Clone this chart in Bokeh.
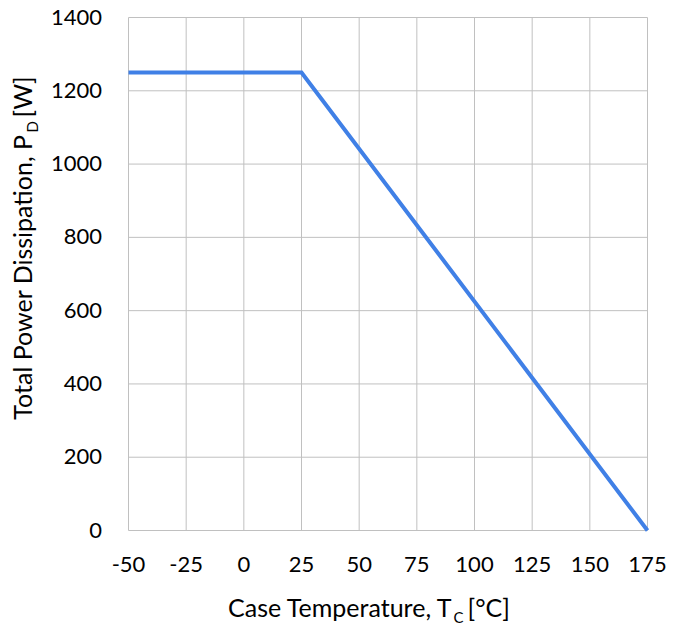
import math
from bokeh.plotting import figure
from bokeh.models import Range1d, ColumnDataSource
from bokeh.core.properties import value
from bokeh.embed import file_html
from bokeh.resources import INLINE

# Power derating curve: total power dissipation vs case temperature
case_temp_c = [-50, 25, 175]
power_w = [1250, 1250, 0]

x_ticks = [-50, -25, 0, 25, 50, 75, 100, 125, 150, 175]
y_ticks = [0, 200, 400, 600, 800, 1000, 1200, 1400]
x_tick_labels = [str(v) for v in x_ticks]
y_tick_labels = [str(v) for v in y_ticks]

X_MIN, X_MAX = -50, 175
Y_MIN, Y_MAX = 0, 1400

# canvas and plot-area geometry (pixels)
W, H = 686, 626
LEFT, RIGHT, TOP, BOTTOM = 128, 39, 17, 96
AREA_W = W - LEFT - RIGHT
AREA_H = H - TOP - BOTTOM
XU = (X_MAX - X_MIN) / AREA_W      # data units per pixel, x
YU = (Y_MAX - Y_MIN) / AREA_H      # data units per pixel, y

FONT = "Lato"
GRID = "#c0c0c0"
LINE = "#4080e6"
TICK_SIZE = 22
TITLE_SIZE = 25
SUB_SIZE = 15
BASE_SHIFT = 0.38   # rendered baseline sits this many ems low; compensate

# the frame spans the whole canvas so that tick labels and titles
# are drawn with the same data scales as the curve
p = figure(width=W, height=H, output_backend="svg", toolbar_location=None,
           x_axis_location=None, y_axis_location=None, title_location=None,
           x_range=Range1d(X_MIN - LEFT * XU, X_MAX + RIGHT * XU),
           y_range=Range1d(Y_MIN - BOTTOM * YU, Y_MAX + TOP * YU),
           min_border=0)
p.min_border_left = p.min_border_right = 0
p.min_border_top = p.min_border_bottom = 0
p.background_fill_color = "white"
p.border_fill_color = "white"
p.outline_line_color = None
p.xgrid.visible = False
p.ygrid.visible = False

# gridlines across the plot area; the outer ones form its border
p.segment(x0=x_ticks, x1=x_ticks, y0=[Y_MIN] * len(x_ticks), y1=[Y_MAX] * len(x_ticks),
          line_color=GRID, line_width=1)
p.segment(x0=[X_MIN] * len(y_ticks), x1=[X_MAX] * len(y_ticks), y0=y_ticks, y1=y_ticks,
          line_color=GRID, line_width=1)

p.line(case_temp_c, power_w, line_color=LINE, line_width=4, line_join="miter")

tick_lift = BASE_SHIFT * TICK_SIZE

# x tick labels (digits sit on a baseline 42 px below the plot area)
xsrc = ColumnDataSource(dict(x=x_ticks,
                             y=[Y_MIN - (42 - tick_lift) * YU] * len(x_ticks),
                             t=x_tick_labels))
p.text(x="x", y="y", text="t", source=xsrc, text_align="center",
       text_baseline="alphabetic", text_font=value(FONT),
       text_font_size=value(f"{TICK_SIZE}px"), text_color="black")

# y tick labels, vertically centred on their gridlines
ysrc = ColumnDataSource(dict(x=[X_MIN - 26.5 * XU] * len(y_ticks),
                             y=[v - (8 - tick_lift) * YU for v in y_ticks],
                             t=y_tick_labels))
p.text(x="x", y="y", text="t", source=ysrc, text_align="right",
       text_baseline="alphabetic", text_font=value(FONT),
       text_font_size=value(f"{TICK_SIZE}px"), text_color="black")


def add_text(text, cx, cy, size, align, rotated=False):
    """Place a text piece with its baseline at canvas pixel (cx, cy)."""
    lift = BASE_SHIFT * size
    if rotated:
        cx -= lift
    else:
        cy -= lift
    x = X_MIN + (cx - LEFT) * XU
    y = Y_MIN + (H - BOTTOM - cy) * YU
    p.text(x=[x], y=[y], text=[text], angle=math.pi / 2 if rotated else 0.0,
           text_align=align, text_baseline="alphabetic", text_font=value(FONT),
           text_font_size=value(f"{size}px"), text_color="black")


# x-axis title with subscript
add_text("Case Temperature, T", 452.5, 616, TITLE_SIZE, "right")
add_text("C", 453, 622, SUB_SIZE, "left")
add_text("[°C]", 467, 616, TITLE_SIZE, "left")

# y-axis title with subscript (rotated)
add_text("Total Power Dissipation, P", 31, 134, TITLE_SIZE, "right", rotated=True)
add_text("D", 37.5, 132, SUB_SIZE, "left", rotated=True)
add_text("[W]", 31, 117, TITLE_SIZE, "left", rotated=True)

open("out.html", "w").write(file_html(p, INLINE))
